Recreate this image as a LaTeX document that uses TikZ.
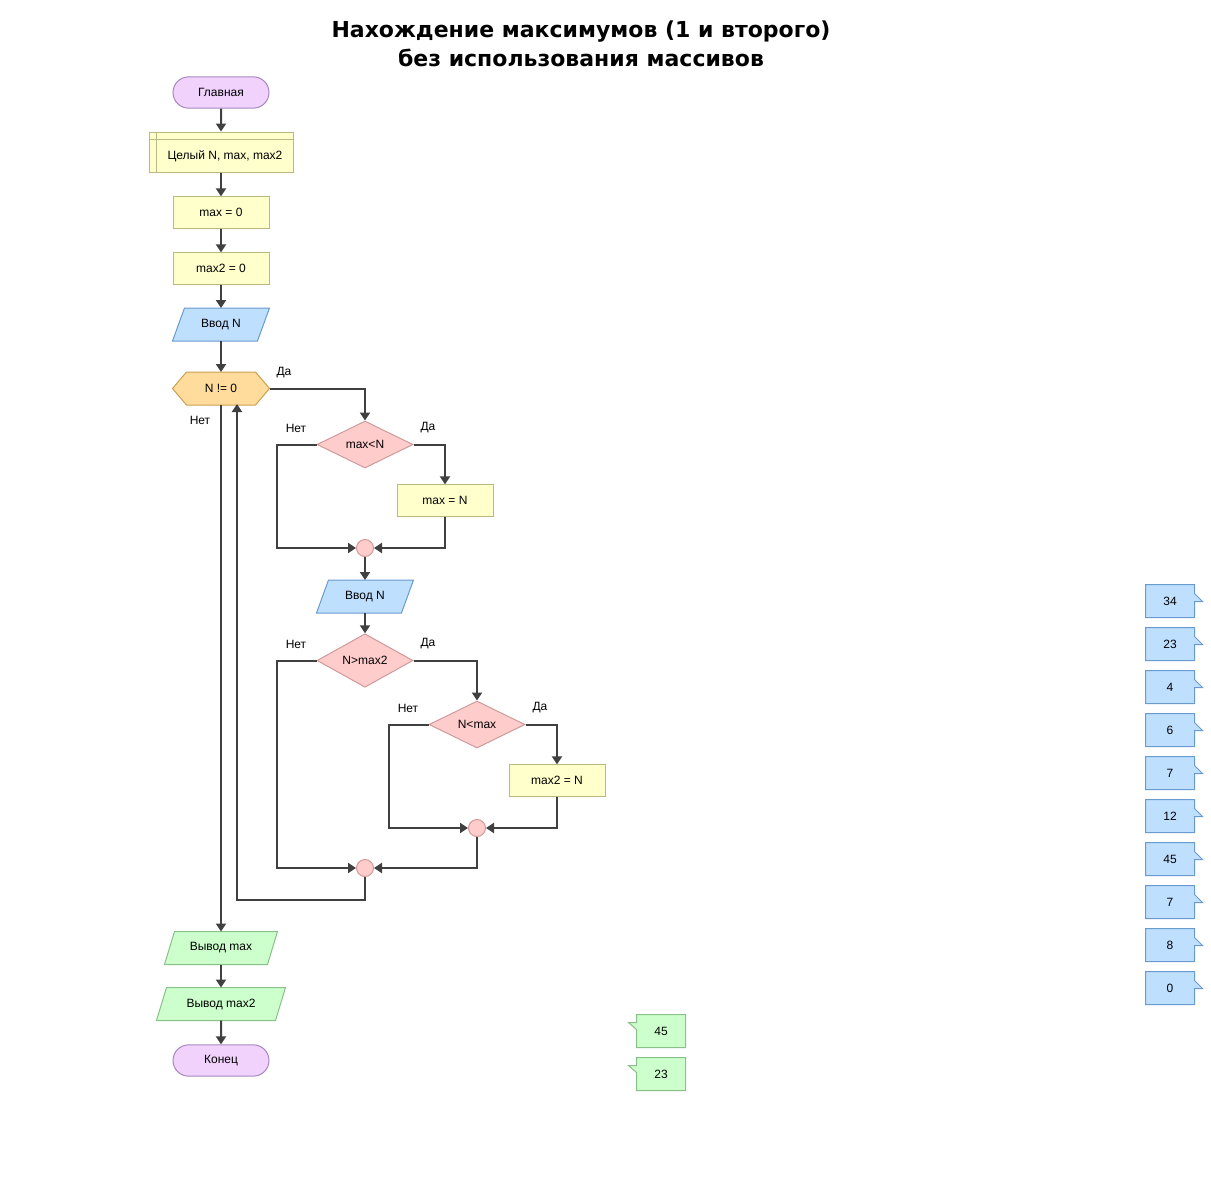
\documentclass[tikz,border=0pt]{standalone}
\usepackage{fontspec}
\setmainfont{Liberation Sans}
\newfontfamily\titlefont{DejaVu Sans}
\usetikzlibrary{shapes.geometric,shapes.misc,arrows.meta,backgrounds,calc}
\definecolor{termfill}{HTML}{F0D2FC}
\definecolor{termdraw}{HTML}{A888C0}
\definecolor{procfill}{HTML}{FFFFCC}
\definecolor{procdraw}{HTML}{B8B880}
\definecolor{iofill}{HTML}{BFDFFF}
\definecolor{iodraw}{HTML}{6A9AD0}
\definecolor{hexfill}{HTML}{FFDC9C}
\definecolor{hexdraw}{HTML}{CCA050}
\definecolor{decfill}{HTML}{FFCCCC}
\definecolor{decdraw}{HTML}{D09999}
\definecolor{outfill}{HTML}{CCFFCC}
\definecolor{outdraw}{HTML}{88C088}
\definecolor{linecol}{HTML}{404040}
\begin{document}
\begin{tikzpicture}[x=0.75pt,y=-0.75pt, font=\fontsize{9}{11}\selectfont,
  base/.style={inner sep=0pt, line width=0.75pt, text=black},
  term/.style={base, rounded rectangle, minimum width=72pt, minimum height=23.5pt, fill=termfill, draw=termdraw},
  proc/.style={base, rectangle, minimum width=72pt, minimum height=23.5pt, fill=procfill, draw=procdraw},
  declbox/.style={base, rectangle, minimum width=108pt, minimum height=30pt, fill=procfill, draw=procdraw},
  ionode/.style={base, rectangle, minimum height=24pt},
  inshapep/.style={fill=iofill, draw=iodraw, line width=0.75pt},
  outshapep/.style={fill=outfill, draw=outdraw, line width=0.75pt},
  hexnode/.style={base, rectangle, minimum width=72pt, minimum height=24pt},
  hexshape/.style={fill=hexfill, draw=hexdraw, line width=0.75pt},
  dec/.style={base, diamond, minimum width=72pt, minimum height=35.25pt, fill=decfill, draw=decdraw},
  junc/.style={base, circle, minimum size=12.75pt, fill=decfill, draw=decdraw},
  callnode/.style={base, rectangle, minimum width=36pt, minimum height=24pt},
  inshape/.style={fill=iofill, draw=iodraw, line width=0.75pt},
  outshape/.style={fill=outfill, draw=outdraw, line width=0.75pt},
  lbl/.style={inner sep=0pt, text=black},
  arr/.style={draw=linecol, line width=1.5pt, -{Triangle[length=6pt,width=7.5pt]}},
  ln/.style={draw=linecol, line width=1.5pt}
]
\useasboundingbox (0,0) rectangle (1211,1183);

% title
\node[inner sep=0pt, align=center, font=\titlefont\bfseries\fontsize{16.5}{21.75}\selectfont] (title) at (581,43.5)
  {Нахождение максимумов (1 и второго)\\без использования массивов};

% main column
\node[term] (start) at (221,92.5) {Главная};
\node[declbox] (decl) at (221,152) {};
\node[inner sep=0pt] (decltext) at (225,156) {Целый N, max, max2};
\draw[procdraw, line width=0.75pt] ([yshift=-6pt]decl.north west) -- ([yshift=-6pt]decl.north east);
\draw[procdraw, line width=0.75pt] ([xshift=6pt]decl.north west) -- ([xshift=6pt]decl.south west);
\node[proc] (set1) at (221,212.5) {max = 0};
\node[proc] (set2) at (221,268.5) {max2 = 0};
\node[ionode, minimum width=72pt] (in1) at (221,324.5) {Ввод N};
\node[hexnode] (hex) at (221,388.5) {N != 0};

\node[dec] (d1) at (365,444.5) {max<N};
\node[proc] (r1) at (445,500.5) {max = N};
\node[junc] (j1) at (365,548) {};
\node[ionode, minimum width=72pt] (in2) at (365,596.5) {Ввод N};
\node[dec] (d2) at (365,660.5) {N>max2};
\node[dec] (d3) at (477,724.5) {N<max};
\node[proc] (r2) at (557,780.5) {max2 = N};
\node[junc] (j2) at (477,828) {};
\node[junc] (j3) at (365,868) {};

\node[ionode, minimum width=84pt] (out1) at (221,948) {Вывод max};
\node[ionode, minimum width=96pt] (out2) at (221,1004) {Вывод max2};
\node[term] (stop) at (221,1060.5) {Конец};

\begin{scope}[on background layer]
\filldraw[hexshape] (hex.west) -- ([xshift=10.5pt]hex.north west) -- ([xshift=-10.5pt]hex.north east)
  -- (hex.east) -- ([xshift=-10.5pt]hex.south east) -- ([xshift=10.5pt]hex.south west) -- cycle;
\foreach \n in {in1,in2} {
  \filldraw[inshapep] ([xshift=9pt]\n.north west) -- (\n.north east) -- ([xshift=-9pt]\n.south east) -- (\n.south west) -- cycle;
}
\foreach \n in {out1,out2} {
  \filldraw[outshapep] ([xshift=7.5pt]\n.north west) -- (\n.north east) -- ([xshift=-7.5pt]\n.south east) -- (\n.south west) -- cycle;
}
\end{scope}

% labels
\node[lbl] (lhda) at (284,373) {Да};
\node[lbl] (lhnet) at (200,420) {Нет};
\node[lbl] (l1n) at (296,428) {Нет};
\node[lbl] (l1d) at (428,428) {Да};
\node[lbl] (l2n) at (296,644) {Нет};
\node[lbl] (l2d) at (428,644) {Да};
\node[lbl] (l3n) at (408,708) {Нет};
\node[lbl] (l3d) at (540,708) {Да};

% helper coordinates
\coordinate (L1) at (277,0);
\coordinate (L2) at (389,0);
\coordinate (B) at (0,900);
\coordinate (hexin) at (237,404);

% connectors
\draw[arr] (start) -- (decl);
\draw[arr] (decl) -- (set1);
\draw[arr] (set1) -- (set2);
\draw[arr] (set2) -- (in1);
\draw[arr] (in1) -- (hex);
\draw[arr] (hex.east) -| (d1.north);
\draw[arr] (d1.west) -| (L1 |- j1) -- (j1.west);
\draw[arr] (d1.east) -| (r1.north);
\draw[arr] (r1.south) |- (j1.east);
\draw[arr] (j1) -- (in2);
\draw[arr] (in2) -- (d2);
\draw[arr] (d2.west) -| (L1 |- j3) -- (j3.west);
\draw[arr] (d2.east) -| (d3.north);
\draw[arr] (d3.west) -| (L2 |- j2) -- (j2.west);
\draw[arr] (d3.east) -| (r2.north);
\draw[arr] (r2.south) |- (j2.east);
\draw[arr] (j2.south) |- (j3.east);
\draw[arr] (j3.south) -- (j3.south |- B) -| (hexin);
\draw[arr] (hex.south) -- (out1.north);
\draw[arr] (out1) -- (out2);
\draw[arr] (out2) -- (stop);

% input callouts
\foreach \v [count=\k] in {34,23,4,6,7,12,45,7,8,0} {
  \node[callnode] (i\k) at (1170,{558+43*\k}) {\v};
  \begin{scope}[on background layer]
  \filldraw[inshape] (i\k.north west) -- (i\k.north east) -- ([yshift=-6.75pt]i\k.north east)
    -- ([xshift=6pt,yshift=-12.75pt]i\k.north east) -- ([yshift=-12.75pt]i\k.north east)
    -- (i\k.south east) -- (i\k.south west) -- cycle;
  \end{scope}
}

% output callouts
\foreach \v [count=\k] in {45,23} {
  \node[callnode] (o\k) at (661,{988+43*\k}) {\v};
  \begin{scope}[on background layer]
  \filldraw[outshape] (o\k.north west) -- (o\k.north east) -- (o\k.south east) -- (o\k.south west)
    -- ([yshift=-11.25pt]o\k.north west) -- ([xshift=-6pt,yshift=-6pt]o\k.north west)
    -- ([yshift=-6pt]o\k.north west) -- cycle;
  \end{scope}
}
\end{tikzpicture}
\end{document}
